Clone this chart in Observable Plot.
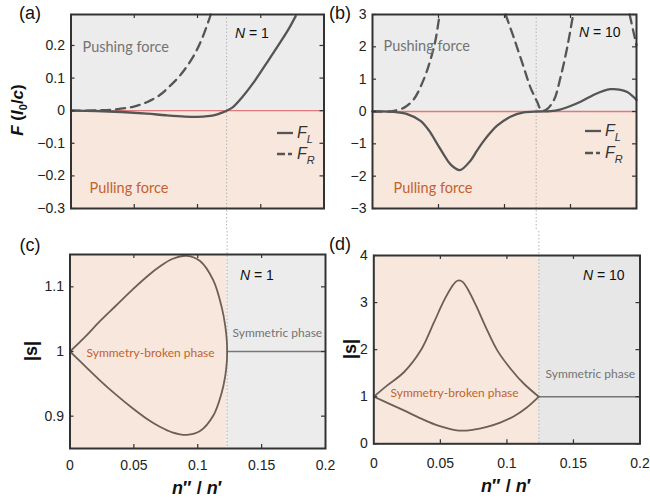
<!DOCTYPE html>
<html><head><meta charset="utf-8">
<script src="https://cdn.jsdelivr.net/npm/d3@7"></script>
<script src="https://cdn.jsdelivr.net/npm/@observablehq/plot@0.6"></script>
<style>
body{margin:0;background:#fff;}
#root{position:relative;width:650px;height:499px;overflow:hidden;font-family:"Liberation Sans",Arial,sans-serif;color:#111;}
.panel{position:absolute;}
.panel svg{overflow:visible;display:block;}
.lbl{position:absolute;white-space:nowrap;line-height:1;}
</style></head><body><div id="root"></div><script>
// ---------- data ----------
const thrN1 = 0.123, thrN10 = 0.124;
const xDomain = [0, 0.2];
const forceDomainN1 = [-0.3, 0.295];
const forceDomainN10 = [-3, 3];
const sDomainN1 = [0.85, 1.15];
const sDomainN10 = [0, 4];
const xTickVals = [0.05, 0.1, 0.15];
const xLabelVals = [0, 0.05, 0.1, 0.15, 0.2];
const yTicksA = [-0.3, -0.2, -0.1, 0, 0.1, 0.2];
const yTicksB = [-3, -2, -1, 0, 1, 2, 3];
const yTicksC = [0.9, 1, 1.1];
const yTicksD = [0, 1, 2, 3, 4];

// (a) N = 1 forces
const aFLx = [0, 0.02, 0.04, 0.06, 0.075, 0.09, 0.1, 0.108, 0.115, 0.12, 0.123, 0.128, 0.135, 0.145, 0.155, 0.165, 0.172, 0.1776];
const aFLy = [0, -0.001, -0.004, -0.009, -0.014, -0.018, -0.019, -0.017, -0.012, -0.005, 0, 0.011, 0.04, 0.09, 0.148, 0.207, 0.25, 0.29];
const aFRx = [0, 0.02, 0.035, 0.049, 0.06, 0.0702, 0.078, 0.086, 0.0965, 0.104, 0.1105];
const aFRy = [0, 0.001, 0.004, 0.012, 0.026, 0.048, 0.075, 0.107, 0.165, 0.225, 0.295];

// (b) N = 10 forces
const bFLx = [0, 0.015, 0.0263, 0.0364, 0.043, 0.049, 0.054, 0.059, 0.0662, 0.0742, 0.079, 0.0843, 0.0894, 0.0944, 0.1045, 0.1146, 0.125, 0.135, 0.142, 0.15, 0.1576, 0.1677, 0.175, 0.1803, 0.187, 0.193, 0.2];
const bFLy = [0, -0.01, -0.08, -0.29, -0.6, -1.0, -1.33, -1.63, -1.81, -1.52, -1.22, -0.91, -0.65, -0.44, -0.16, -0.03, 0, 0.01, 0.06, 0.17, 0.3, 0.52, 0.64, 0.69, 0.68, 0.6, 0.36];
const bFRx = [0, 0.013, 0.016, 0.024, 0.0313, 0.0389, 0.0439, 0.0477, 0.0508, 0.07, 0.1008, 0.107, 0.1146, 0.1197, 0.1247, 0.128, 0.1315, 0.1374, 0.1424, 0.1475, 0.152, 0.17, 0.1948, 0.1975, 0.2];
const bFRy = [0, 0.0, 0.02, 0.12, 0.38, 1.0, 1.6, 2.2, 3.0, null, 3.0, 2.29, 1.36, 0.74, 0.3, 0.04, 0.05, 0.35, 1.05, 1.98, 3.0, null, 3.0, 2.5, 2.05];

// (c) N = 1 |s|
const cUx = [0, 0.012, 0.0225, 0.0355, 0.0485, 0.0615, 0.07, 0.08, 0.0914, 0.1018, 0.1122, 0.1187, 0.1215, 0.1228, 0.123];
const cUy = [1, 1.023, 1.045, 1.07, 1.095, 1.118, 1.131, 1.143, 1.148, 1.14, 1.11, 1.069, 1.04, 1.015, 1.0];
const cLx = [0.1228, 0.1215, 0.1187, 0.1122, 0.1018, 0.0914, 0.08, 0.07, 0.0615, 0.0485, 0.0355, 0.0225, 0.012, 0];
const cLy = [0.985, 0.962, 0.936, 0.901, 0.877, 0.871, 0.875, 0.884, 0.894, 0.913, 0.934, 0.957, 0.977, 1];
const cSymX = [thrN1, 0.2], cSymY = [1, 1];

// (d) N = 10 |s|
const dUx = [0, 0.0101, 0.0226, 0.0352, 0.0452, 0.0527, 0.0585, 0.0615, 0.064, 0.0668, 0.0703, 0.0766, 0.0841, 0.0929, 0.1029, 0.113, 0.124];
const dUy = [1, 1.24, 1.52, 1.98, 2.58, 3.04, 3.33, 3.44, 3.47, 3.44, 3.3, 2.95, 2.48, 1.98, 1.59, 1.27, 1];
const dLx = [0, 0.011, 0.0226, 0.0352, 0.049, 0.064, 0.075, 0.085, 0.095, 0.105, 0.115, 0.124];
const dLy = [1, 0.86, 0.71, 0.54, 0.38, 0.28, 0.3, 0.36, 0.45, 0.58, 0.77, 1];
const dSymX = [thrN10, 0.2], dSymY = [1, 1];

const forceLabels = ["Pushing force", "Pulling force"];
const phaseLabels = ["Symmetry-broken phase", "Symmetric phase"];

// ---------- styles ----------
const GRAY_BG = "#ececec", PEACH_BG = "#f7e7dd", GRAY_BG_D = "#e7e7e7";
const CURVE = "#555555", SCURVE = "#6b5f58";
const ORANGE = "#c4622d", GTXT = "#737373";
const tbl = (xs, ys) => xs.map((x, i) => ({x, y: ys[i]}));
const fmt = d => d < 0 ? "\u2212" + Math.abs(d) : String(d);
const annFont = "Lato, 'Open Sans', sans-serif";
const axFont = "Liberation Sans, Arial, sans-serif";

function panel({left, top, W, H, ml, mr, mt, mb, yDomain, yTicks, showX, xPad, marks}) {
  const fw = W - ml - mr, fh = H - mt - mb;
  const plot = Plot.plot({
    width: W, height: H, marginLeft: ml, marginRight: mr, marginTop: mt, marginBottom: mb,
    x: {domain: xDomain, ...(showX ? {} : {axis: null})},
    y: {domain: yDomain},
    style: {fontFamily: axFont, fontSize: "14px", color: "#222", background: "transparent", overflow: "visible"},
    marks: [
      ...marks,
      Plot.frame({stroke: "#333", strokeWidth: 2}),
      Plot.ruleX(xTickVals, {insetTop: fh - 4, stroke: "#333", strokeWidth: 1.2}),
      Plot.ruleX(xTickVals, {insetBottom: fh - 4, stroke: "#333", strokeWidth: 1.2}),
      Plot.ruleY(yTicks, {insetRight: fw - 4, stroke: "#333", strokeWidth: 1.2}),
      Plot.ruleY(yTicks, {insetLeft: fw - 4, stroke: "#333", strokeWidth: 1.2}),
      Plot.axisY(yTicks, {tickSize: 0, tickPadding: 6, tickFormat: fmt, label: null, fontSize: 14, fontFamily: axFont}),
      showX ? Plot.axisX(xLabelVals, {tickSize: 0, tickPadding: xPad, tickFormat: fmt, label: null, fontSize: 14, fontFamily: axFont}) : null
    ]
  });
  const div = document.createElement("div");
  div.className = "panel";
  div.style.left = left + "px"; div.style.top = top + "px";
  div.appendChild(plot);
  document.getElementById("root").appendChild(div);
}

// (a)
panel({left: 0, top: 0, W: 330, H: 231, ml: 70.5, mr: 6.5, mt: 14, mb: 23,
  yDomain: forceDomainN1, yTicks: yTicksA, showX: false,
  marks: [
    Plot.rect([{y1: 0, y2: forceDomainN1[1], c: GRAY_BG}, {y1: forceDomainN1[0], y2: 0, c: PEACH_BG}],
      {x1: xDomain[0], x2: xDomain[1], y1: "y1", y2: "y2", fill: d => d.c}),
    Plot.ruleY([0], {stroke: "#e07a7a", strokeWidth: 1.3}),
    Plot.ruleX([thrN1], {stroke: "#b5b5b5", strokeWidth: 1, strokeDasharray: "1.5,2", insetBottom: -23}),
    Plot.line(tbl(aFRx, aFRy), {x: "x", y: "y", stroke: CURVE, strokeWidth: 2.3, strokeDasharray: "9,6", curve: "catmull-rom"}),
    Plot.line(tbl(aFLx, aFLy), {x: "x", y: "y", stroke: CURVE, strokeWidth: 2.3, curve: "catmull-rom"}),
    Plot.text([forceLabels[0]], {text: d => d, frameAnchor: "top-left", dx: 11.5, dy: 33, textAnchor: "start", lineAnchor: "middle", fill: GTXT, fontSize: 14.5, fontFamily: annFont}),
    Plot.text([forceLabels[1]], {text: d => d, frameAnchor: "top-left", dx: 18.5, dy: 174, textAnchor: "start", lineAnchor: "middle", fill: ORANGE, fontSize: 14.5, fontFamily: annFont})
  ]});

// (b)
panel({left: 325, top: 0, W: 325, H: 231, ml: 47, mr: 14, mt: 14, mb: 23,
  yDomain: forceDomainN10, yTicks: yTicksB, showX: false,
  marks: [
    Plot.rect([{y1: 0, y2: forceDomainN10[1], c: GRAY_BG}, {y1: forceDomainN10[0], y2: 0, c: PEACH_BG}],
      {x1: xDomain[0], x2: xDomain[1], y1: "y1", y2: "y2", fill: d => d.c}),
    Plot.ruleY([0], {stroke: "#e07a7a", strokeWidth: 1.3}),
    Plot.ruleX([thrN10], {stroke: "#b5b5b5", strokeWidth: 1, strokeDasharray: "1.5,2", insetBottom: -23}),
    Plot.line(tbl(bFRx, bFRy), {x: "x", y: "y", stroke: CURVE, strokeWidth: 2.3, strokeDasharray: "9,6", curve: "catmull-rom"}),
    Plot.line(tbl(bFLx, bFLy), {x: "x", y: "y", stroke: CURVE, strokeWidth: 2.3, curve: "catmull-rom"}),
    Plot.text([forceLabels[0]], {text: d => d, frameAnchor: "top-left", dx: 11, dy: 32, textAnchor: "start", lineAnchor: "middle", fill: GTXT, fontSize: 14.5, fontFamily: annFont}),
    Plot.text([forceLabels[1]], {text: d => d, frameAnchor: "top-left", dx: 21, dy: 174, textAnchor: "start", lineAnchor: "middle", fill: ORANGE, fontSize: 14.5, fontFamily: annFont})
  ]});

// (c)
panel({left: 0, top: 231, W: 330, H: 268, ml: 69.5, mr: 5, mt: 23, mb: 51,
  yDomain: sDomainN1, yTicks: yTicksC, showX: true, xPad: 12,
  marks: [
    Plot.rect([{x1: 0, x2: thrN1, c: PEACH_BG}, {x1: thrN1, x2: xDomain[1], c: GRAY_BG}],
      {x1: "x1", x2: "x2", y1: sDomainN1[0], y2: sDomainN1[1], fill: d => d.c}),
    Plot.ruleX([thrN1], {stroke: "#b5b5b5", strokeWidth: 1, strokeDasharray: "1.5,2", insetTop: -23}),
    Plot.line(tbl(cSymX, cSymY), {x: "x", y: "y", stroke: "#777", strokeWidth: 1.6}),
    Plot.line(tbl(cUx, cUy).concat(tbl(cLx, cLy)), {x: "x", y: "y", stroke: SCURVE, strokeWidth: 1.8, curve: "catmull-rom"}),
    Plot.text([phaseLabels[0]], {text: d => d, frameAnchor: "top-left", dx: 16.5, dy: 99, textAnchor: "start", lineAnchor: "middle", fill: ORANGE, fontSize: 12, fontFamily: annFont}),
    Plot.text([phaseLabels[1]], {text: d => d, frameAnchor: "top-left", dx: 162.5, dy: 79, textAnchor: "start", lineAnchor: "middle", fill: GTXT, fontSize: 12, fontFamily: annFont})
  ]});

// (d)
panel({left: 325, top: 231, W: 325, H: 268, ml: 48.3, mr: 10.5, mt: 24, mb: 55.7,
  yDomain: sDomainN10, yTicks: yTicksD, showX: true, xPad: 14,
  marks: [
    Plot.rect([{x1: 0, x2: thrN10, c: PEACH_BG}, {x1: thrN10, x2: xDomain[1], c: GRAY_BG_D}],
      {x1: "x1", x2: "x2", y1: sDomainN10[0], y2: sDomainN10[1], fill: d => d.c}),
    Plot.ruleX([thrN10], {stroke: "#b5b5b5", strokeWidth: 1, strokeDasharray: "1.5,2", insetTop: -24}),
    Plot.line(tbl(dSymX, dSymY), {x: "x", y: "y", stroke: "#777", strokeWidth: 1.6}),
    Plot.line(tbl(dUx, dUy), {x: "x", y: "y", stroke: SCURVE, strokeWidth: 1.8, curve: "catmull-rom"}),
    Plot.line(tbl(dLx, dLy), {x: "x", y: "y", stroke: SCURVE, strokeWidth: 1.8, curve: "catmull-rom"}),
    Plot.text([phaseLabels[0]], {text: d => d, frameAnchor: "top-left", dx: 16.7, dy: 138, textAnchor: "start", lineAnchor: "middle", fill: ORANGE, fontSize: 12, fontFamily: annFont}),
    Plot.text([phaseLabels[1]], {text: d => d, frameAnchor: "top-left", dx: 171.7, dy: 119, textAnchor: "start", lineAnchor: "middle", fill: GTXT, fontSize: 12, fontFamily: annFont})
  ]});

// ---------- overlay labels ----------
const root = document.getElementById("root");
function label(html, x, y, {size = 14, rotate = 0, weight = "normal", anchor = "center"} = {}) {
  const el = document.createElement("div");
  el.className = "lbl";
  el.innerHTML = html;
  el.style.left = x + "px"; el.style.top = y + "px";
  el.style.fontSize = size + "px";
  el.style.fontWeight = weight;
  const tx = anchor === "start" ? "0" : "-50%";
  el.style.transform = `translate(${tx},-50%)` + (rotate ? ` rotate(${rotate}deg)` : "");
  root.appendChild(el);
}
label("(a)", 30, 13, {size: 18});
label("(b)", 340, 13, {size: 18});
label("(c)", 30, 245, {size: 18});
label("(d)", 340, 244, {size: 18});
label("<i>F</i> (<i>I</i><sub style='font-size:11px'>0</sub>/<i>c</i>)", 19, 110, {size: 17, rotate: -90, weight: "bold"});
label("|s|", 31, 351, {size: 18, rotate: -90, weight: "bold"});
label("|s|", 350, 349, {size: 18, rotate: -90, weight: "bold"});
label("<i>n</i>\u2032\u2032 / <i>n</i>\u2032", 197, 488, {size: 18, weight: "bold"});
label("<i>n</i>\u2032\u2032 / <i>n</i>\u2032", 506, 486, {size: 18, weight: "bold"});
label("<i>N</i> = 1", 235, 33, {size: 14, anchor: "start"});
label("<i>N</i> = 10", 579, 32, {size: 14, anchor: "start"});
label("<i>N</i> = 1", 240, 275, {size: 14, anchor: "start"});
label("<i>N</i> = 10", 583, 275, {size: 14, anchor: "start"});

// legends
const NS = "http://www.w3.org/2000/svg";
const lg = document.createElementNS(NS, "svg");
lg.setAttribute("width", 650); lg.setAttribute("height", 499);
lg.style.position = "absolute"; lg.style.left = "0"; lg.style.top = "0"; lg.style.pointerEvents = "none";
function legend(x, y1, y2) {
  lg.insertAdjacentHTML("beforeend",
    `<line x1="${x}" x2="${x + 16}" y1="${y1}" y2="${y1}" stroke="${CURVE}" stroke-width="2.3"/>
     <line x1="${x}" x2="${x + 16}" y1="${y2}" y2="${y2}" stroke="${CURVE}" stroke-width="2.3" stroke-dasharray="8,3,4,20"/>
     <text x="${x + 20}" y="${y1 + 5}" font-family="Liberation Sans, Arial" font-size="16" font-style="italic" fill="#333">F<tspan font-size="11" dy="5">L</tspan></text>
     <text x="${x + 20}" y="${y2 + 5}" font-family="Liberation Sans, Arial" font-size="16" font-style="italic" fill="#333">F<tspan font-size="11" dy="5">R</tspan></text>`);
}
legend(277, 133, 154);
legend(585, 131, 153);
root.appendChild(lg);
</script></body></html>
